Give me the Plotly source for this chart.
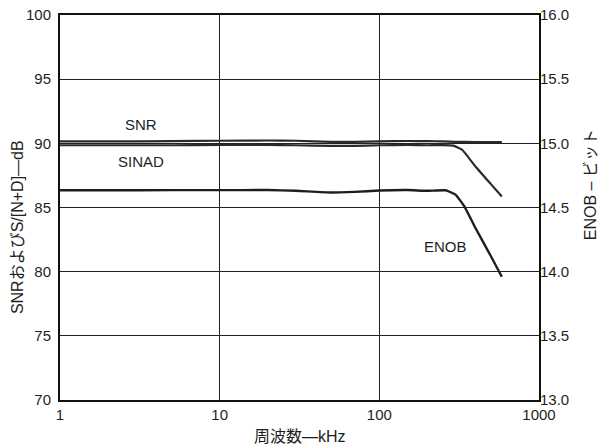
import math
import plotly.graph_objects as go

# Frequency response of SNR, SINAD (dB) and ENOB (bits)
snr_freq = [1, 2, 5, 10, 20, 30, 50, 70, 100, 150, 200, 250, 300, 400, 500, 585]
snr_db = [90.15, 90.15, 90.17, 90.2, 90.22, 90.2, 90.12, 90.12, 90.15, 90.18,
          90.17, 90.15, 90.12, 90.1, 90.1, 90.1]

sinad_freq = [1, 2, 5, 10, 20, 30, 50, 70, 100, 150, 200, 250, 290, 330, 400, 500, 585]
sinad_db = [89.85, 89.85, 89.85, 89.87, 89.88, 89.85, 89.8, 89.8, 89.85, 89.87,
            89.85, 89.86, 89.82, 89.5, 88.2, 86.82, 85.86]

enob_freq = [1, 2, 5, 10, 20, 30, 50, 70, 100, 150, 200, 260, 300, 340, 400, 500, 585]
enob_bits = [14.634, 14.634, 14.635, 14.635, 14.636, 14.63, 14.617, 14.622, 14.632,
             14.636, 14.63, 14.634, 14.6, 14.51, 14.34, 14.12, 13.96]

x_ticks = [1, 10, 100, 1000]
left_ticks = [70, 75, 80, 85, 90, 95, 100]
right_ticks = [13.0, 13.5, 14.0, 14.5, 15.0, 15.5, 16.0]

FONT = "Liberation Sans, Arial, Noto Sans CJK JP, sans-serif"
INK = "#1e1e1e"

fig = go.Figure()
fig.add_trace(go.Scatter(x=snr_freq, y=snr_db, mode="lines",
                         line=dict(color="#2a2a2a", width=2.2, shape="spline", smoothing=0.4),
                         name="SNR"))
fig.add_trace(go.Scatter(x=sinad_freq, y=sinad_db, mode="lines",
                         line=dict(color="#2a2a2a", width=2.2, shape="spline", smoothing=0.4),
                         name="SINAD"))
fig.add_trace(go.Scatter(x=enob_freq, y=enob_bits, mode="lines", yaxis="y2",
                         line=dict(color=INK, width=2.4, shape="spline", smoothing=0.4),
                         name="ENOB"))

# Curve labels (log axis: annotation x is given in log10 units)
label_font = dict(family=FONT, size=15, color=INK)
fig.add_annotation(x=math.log10(3.2), y=91.5, xref="x", yref="y", text="SNR",
                   showarrow=False, font=label_font)
fig.add_annotation(x=math.log10(3.2), y=88.55, xref="x", yref="y", text="SINAD",
                   showarrow=False, font=label_font)
fig.add_annotation(x=math.log10(261), y=14.195, xref="x", yref="y2", text="ENOB",
                   showarrow=False, font=label_font)

# Axis titles
title_font = dict(family=FONT, size=16, color=INK)
fig.add_annotation(x=0.501, y=-0.096, xref="paper", yref="paper", text="周波数—kHz",
                   showarrow=False, font=title_font, xanchor="center", yanchor="middle")
fig.add_annotation(x=-0.0898, y=0.449, xref="paper", yref="paper",
                   text="SNRおよびS/[N+D]—dB", textangle=-90,
                   showarrow=False, font=title_font, xanchor="center", yanchor="middle")
fig.add_annotation(x=1.1065, y=0.558, xref="paper", yref="paper", text="ENOB – ビット",
                   textangle=-90, showarrow=False, font=title_font,
                   xanchor="center", yanchor="middle")

fig.update_layout(
    width=600, height=448,
    margin=dict(l=60, r=61, t=15, b=48, autoexpand=False),
    paper_bgcolor="white", plot_bgcolor="white",
    showlegend=False,
    font=dict(family=FONT, size=15, color=INK),
    xaxis=dict(type="log", range=[0, 3], tickvals=x_ticks,
               ticktext=[str(v) for v in x_ticks],
               showgrid=True, gridcolor="#222", gridwidth=1,
               showline=True, linecolor="#111", linewidth=2, mirror=True,
               ticks="", zeroline=False),
    yaxis=dict(range=[70, 100], tickvals=left_ticks,
               showgrid=True, gridcolor="#222", gridwidth=1,
               showline=True, linecolor="#111", linewidth=2, mirror=True,
               ticks="outside", ticklen=4, tickcolor="rgba(0,0,0,0)", zeroline=False),
    yaxis2=dict(range=[13, 16], tickvals=right_ticks, tickformat=".1f",
                overlaying="y", side="right", showgrid=False,
                showline=False, ticks="", zeroline=False),
)

fig.write_html("out.html")
